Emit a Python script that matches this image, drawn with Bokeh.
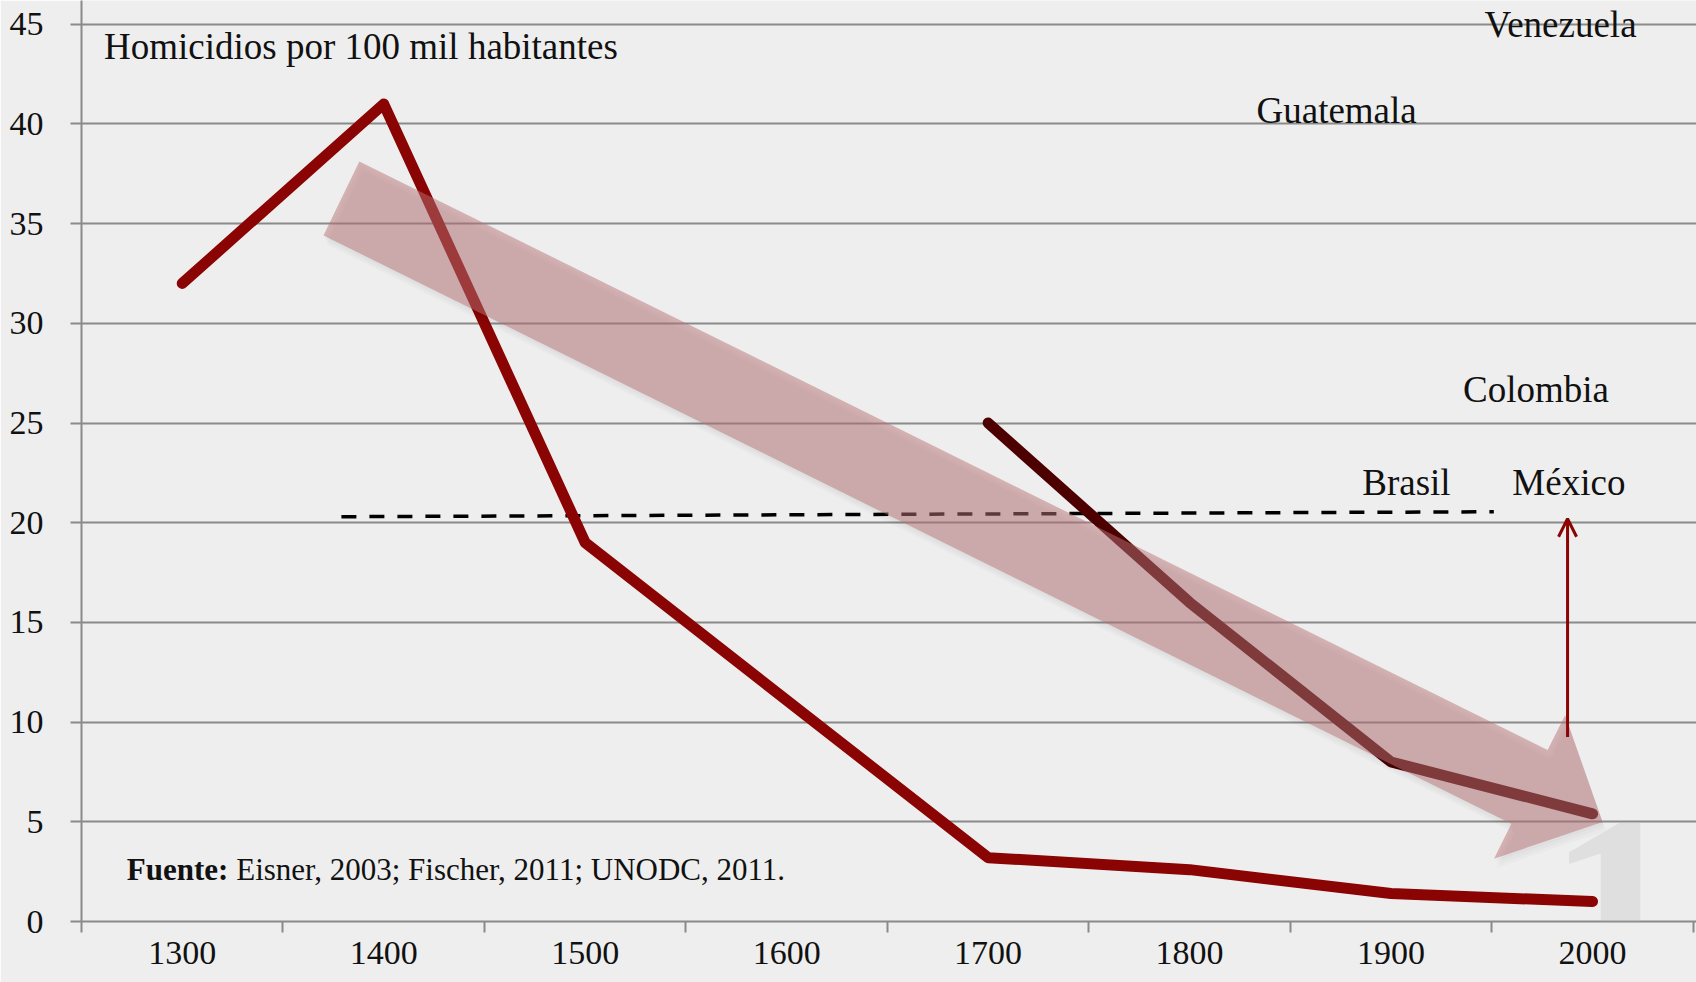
from bokeh.plotting import figure
from bokeh.models import (Range1d, FixedTicker, ColumnDataSource, Arrow, OpenHead, Label)
from bokeh.core.properties import value
from bokeh.embed import file_html
from bokeh.resources import INLINE

# ---------------- data ----------------
years_a = [1300, 1400, 1500, 1700, 1800, 1900, 2000]
rate_a = [32, 41, 19, 3.2, 2.6, 1.4, 1.0]

years_b = [1700, 1800, 1900, 2000]
rate_b = [25, 16, 8, 5.4]

x_ticks = [1300, 1400, 1500, 1600, 1700, 1800, 1900, 2000]
x_bounds = [1250, 1350, 1450, 1550, 1650, 1750, 1850, 1950, 2050]
y_ticks = [0, 5, 10, 15, 20, 25, 30, 35, 40, 45]

countries = ["Venezuela", "Guatemala", "Colombia", "Brasil", "México"]
country_x = [1946.4, 1833.2, 1935.7, 1885.7, 1960.2]
country_y = [45.0, 40.65, 26.7, 22.0, 22.0]

ref_x = [1379, 1951]
ref_y = [20.3, 20.55]

mex_x = 1987.6
mex_from = 9.25
mex_to = 20.2

trend_x = [1387.9, 1977.7, 1986.4, 2005.0, 1951.1, 1959.7, 1370.1]
trend_y = [38.12, 8.60, 10.34, 4.99, 3.15, 4.90, 34.41]

title_text = "Homicidios por 100 mil habitantes"
source_bold = "Fuente:"
source_text = "Eisner, 2003; Fischer, 2011; UNODC, 2011."

# ---------------- figure ----------------
BG = "#eeeeee"
GRID = "#8a8a8a"
SERIF = "Liberation Serif"

p = figure(width=1696, height=982, output_backend="svg", toolbar_location=None,
           x_range=Range1d(1250, 2051.6), y_range=Range1d(0, 46.19),
           min_border_left=81, min_border_right=0, min_border_top=0, min_border_bottom=61)
p.background_fill_color = BG
p.border_fill_color = BG
p.outline_line_color = None

p.xgrid.grid_line_color = None
p.ygrid.grid_line_color = GRID
p.ygrid.grid_line_width = 2
p.ygrid.ticker = FixedTicker(ticks=y_ticks)

p.yaxis.ticker = FixedTicker(ticks=y_ticks)
p.yaxis.axis_line_color = GRID
p.yaxis.axis_line_width = 2
p.yaxis.major_tick_line_color = GRID
p.yaxis.major_tick_line_width = 2
p.yaxis.major_tick_out = 11
p.yaxis.major_tick_in = 0
p.yaxis.minor_tick_line_color = None
p.yaxis.major_label_text_font = SERIF
p.yaxis.major_label_text_font_size = "34px"
p.yaxis.major_label_text_color = "#111111"
p.yaxis.major_label_standoff = 27

p.xaxis.ticker = FixedTicker(ticks=x_ticks, minor_ticks=x_bounds)
p.xaxis.axis_line_color = GRID
p.xaxis.axis_line_width = 2
p.xaxis.major_tick_line_color = None
p.xaxis.major_tick_out = 11
p.xaxis.major_tick_in = 0
p.xaxis.minor_tick_line_color = GRID
p.xaxis.minor_tick_line_width = 2
p.xaxis.minor_tick_out = 11
p.xaxis.minor_tick_in = 0
p.xaxis.major_label_text_font = SERIF
p.xaxis.major_label_text_font_size = "34px"
p.xaxis.major_label_text_color = "#111111"
p.xaxis.major_label_standoff = 9

# reference dashed line
p.line(ref_x, ref_y, line_color="black", line_width=3.5, line_dash="15 13")

# series
p.line(years_a, rate_a, line_color="#8a0404", line_width=11,
       line_cap="round", line_join="round")
p.line(years_b, rate_b, line_color="#4d0000", line_width=11,
       line_cap="round", line_join="round")

# Mexico rising arrow
mex = Arrow(x_start=mex_x, y_start=mex_from, x_end=mex_x, y_end=mex_to,
            line_color="#8a0404", line_width=3,
            end=OpenHead(size=18, line_color="#8a0404", line_width=3), level="glyph")
p.add_layout(mex)

# trend arrow soft shadow + arrow
px_x = 1 / 2.0145
px_y = 1 / 19.95
for dx, dy in [(1, 3), (2, 6), (3, 9)]:
    p.patch([v + dx * px_x for v in trend_x], [v - dy * px_y for v in trend_y],
            fill_color="black", fill_alpha=0.02, line_color=None)
p.patch(trend_x, trend_y, fill_color="#b87478", fill_alpha=0.5, line_color=None)

# watermark page number
wm = Label(x=1977.2, y=4.94, text="10", text_font=SERIF, text_font_size="280px",
           text_font_style="bold", text_color="#bdbdbd", text_alpha=0.3,
           text_baseline="top", text_align="left")
p.add_layout(wm)

# texts
src = ColumnDataSource(dict(x=country_x, y=country_y, t=countries))
p.text(x="x", y="y", text="t", source=src, text_font=value(SERIF),
       text_font_size="37px", text_color="#111111", text_baseline="alphabetic",
       text_align="left")
p.text(x=[1261.2], y=[43.9], text=[title_text], text_font=value(SERIF),
       text_font_size="37px", text_color="#111111", text_baseline="alphabetic",
       text_align="left")
p.text(x=[1272.5], y=[2.6], text=[source_bold], text_font=value(SERIF),
       text_font_size="31px", text_font_style="bold", text_color="#111111",
       text_baseline="alphabetic", text_align="left")
p.text(x=[1272.5 + 54.3], y=[2.6], text=[source_text], text_font=value(SERIF),
       text_font_size="31px", text_color="#111111",
       text_baseline="alphabetic", text_align="left")

html = file_html(p, INLINE)
html = html.replace("<body>", '<body style="background-color:#eeeeee;">', 1)
open("out.html", "w").write(html)
